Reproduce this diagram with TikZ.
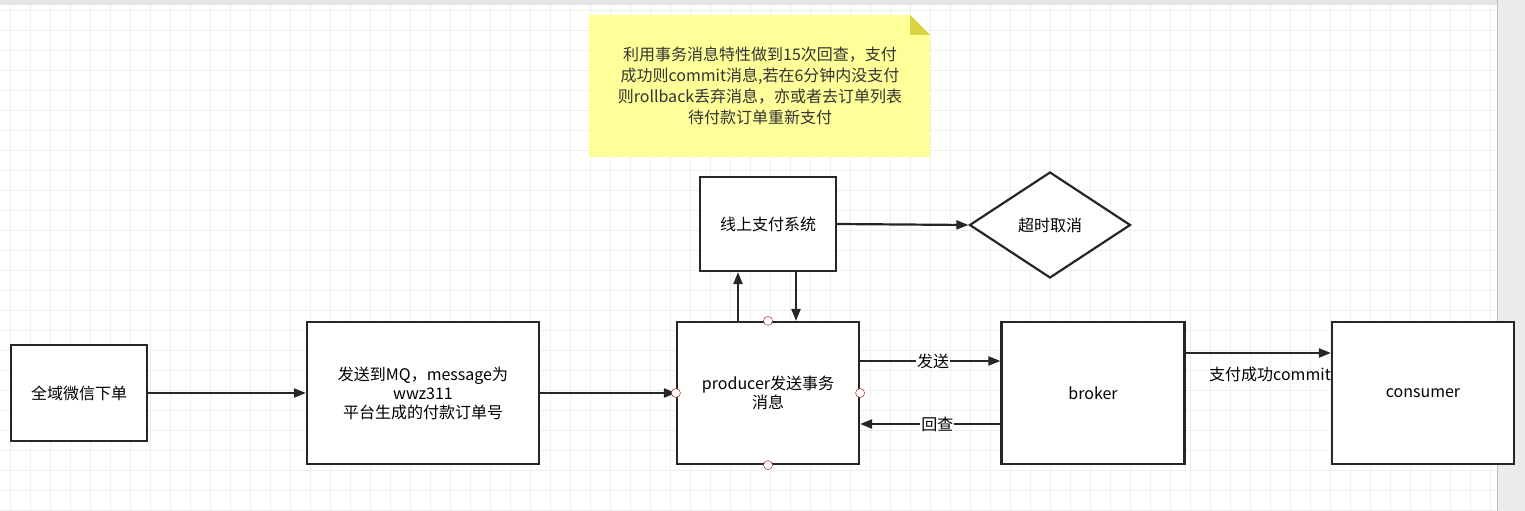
\documentclass[tikz,border=0pt]{standalone}
\usepackage{fontspec}
\setmainfont{Noto Sans CJK SC}
\usetikzlibrary{shapes.geometric,arrows.meta}
\definecolor{grid}{HTML}{EEEEEE}
\definecolor{notey}{HTML}{FFFF99}
\begin{document}
\begin{tikzpicture}[x=1pt,y=-1pt,
  box/.style={draw=black!85,line width=2.2pt,fill=white,font=\fontsize{16}{19}\selectfont,align=center,inner sep=0pt},
  arr/.style={-{Triangle[length=12pt,width=9pt]},line width=2.2pt,draw=black!85},
  lbl/.style={font=\fontsize{16}{19}\selectfont,fill=white,inner sep=1pt},
  port/.style={circle,draw=red!70!black,fill=white,minimum size=9pt,inner sep=0pt}]
\useasboundingbox (0,0) rectangle (1525,511);
\fill[white] (0,0) rectangle (1525,511);
\foreach \x in {10,30,...,1490} \draw[grid,line width=0.8pt] (\x,5) -- (\x,511);
\foreach \y in {10,30,...,510} \draw[grid,line width=0.8pt] (0,\y) -- (1497,\y);
\fill[black!10] (0,0) rectangle (1525,5);
\fill[black!8] (1497,0) rectangle (1525,511);
\draw[black!25] (1497,0) -- (1497,511);
% note
\fill[notey] (589,15) -- (910,15) -- (930,35) -- (930,157) -- (589,157) -- cycle;
\fill[yellow!55!olive!70] (910,15) -- (930,35) -- (910,35) -- cycle;
\node[font=\fontsize{16}{21}\selectfont,align=center,text=black!80] (note) at (760,86) {利用事务消息特性做到15次回查，支付\\成功则commit消息,若在6分钟内没支付\\则rollback丢弃消息，亦或者去订单列表\\待付款订单重新支付};
\node[box,minimum width=136pt,minimum height=96pt] (a) at (79,393) {全域微信下单};
\node[box,minimum width=232pt,minimum height=142pt] (b) at (423,393) {发送到MQ，message为\\wwz311\\平台生成的付款订单号};
\node[box,minimum width=182pt,minimum height=142pt] (p) at (768,393) {producer发送事务\\消息};
\node[box,minimum width=136pt,minimum height=94pt] (s) at (768,224) {线上支付系统};
\node[box,diamond,aspect=1.5,minimum width=161pt,minimum height=106pt] (d) at (1050,225) {超时取消};
\node[box,minimum width=183pt,minimum height=142pt] (k) at (1093,393) {broker};
\node[box,minimum width=182pt,minimum height=142pt] (c) at (1423,393) {consumer};
\draw[arr] (a.east) -- (b.west);
\draw[arr] (b.east) -- (p.west);
\draw[arr] ([xshift=-30pt]p.north) -- ([xshift=-30pt]s.south);
\draw[arr] ([xshift=28pt]s.south) -- ([xshift=28pt]p.north);
\draw[arr] (s.east) -- (d.west);
\draw[arr] ([yshift=32pt]p.east) -- node[lbl,pos=0.52] {发送} ([yshift=32pt]k.west);
\draw[arr] ([yshift=-31pt]k.west) -- node[lbl,pos=0.45] {回查} ([yshift=-31pt]p.east);
\draw[arr] ([yshift=40pt]k.east) -- ([yshift=40pt]c.west);
\node[lbl,fill=none] (cl) at (1270,374) {支付成功commit};
\node[port] (p1) at (p.north) {};
\node[port] (p2) at (p.south) {};
\node[port] (p3) at (p.west) {};
\node[port] (p4) at (p.east) {};
\end{tikzpicture}
\end{document}
